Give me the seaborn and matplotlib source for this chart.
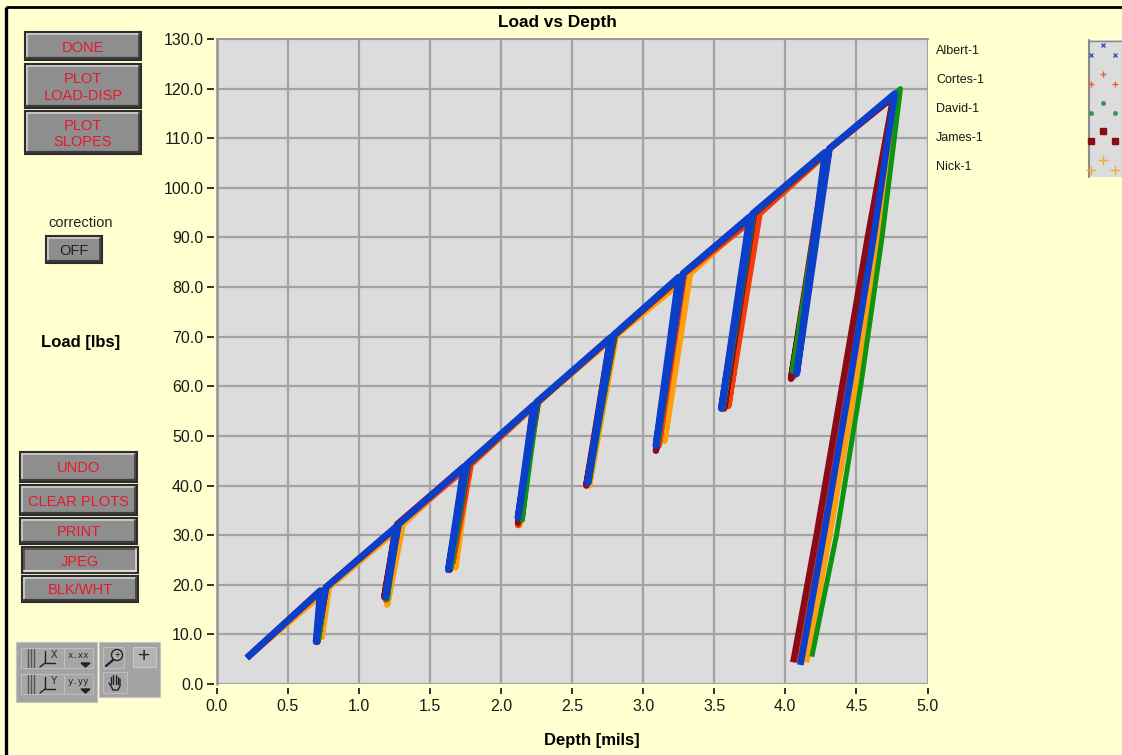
from __future__ import annotations

import matplotlib

matplotlib.use("Agg")
import matplotlib.pyplot as plt
import pandas as pd
import seaborn as sns
from matplotlib.patches import Circle, Rectangle

SERIES = ["Albert-1", "Cortes-1", "David-1", "James-1", "Nick-1"]
DRAW_ORDER = ["Nick-1", "Cortes-1", "James-1", "David-1", "Albert-1"]
COLORS = {
    "Albert-1": "#0b3fc9",
    "Cortes-1": "#f23c0c",
    "David-1": "#0b950f",
    "James-1": "#8b0a18",
    "Nick-1": "#ff9f0f",
}
WIDTHS = {"Albert-1": 4.8, "Cortes-1": 4.4, "David-1": 3.6, "James-1": 4.6, "Nick-1": 4.6}

START_DEPTH = 0.23
START_LOAD = 5.7

PEAK_LOAD = [18.8, 31.6, 43.8, 56.2, 69.8, 82.0, 94.2, 107.2]
REJOIN_LOAD = [19.5, 32.2, 44.3, 56.8, 70.3, 82.7, 94.8, 107.9]
LAST_PEAK_LOAD = {"Albert-1": 119.0, "Cortes-1": 118.5, "David-1": 120.0, "James-1": 118.3, "Nick-1": 119.0}
FINAL_LOADS = [90.0, 60.0, 30.0]

PEAK_DEPTH = {
    "Albert-1": [0.73, 1.26, 1.74, 2.23, 2.77, 3.25, 3.75, 4.28, 4.77],
    "Cortes-1": [0.74, 1.27, 1.77, 2.24, 2.78, 3.27, 3.8, 4.3, 4.76],
    "David-1": [0.73, 1.26, 1.74, 2.24, 2.77, 3.26, 3.76, 4.29, 4.81],
    "James-1": [0.73, 1.26, 1.74, 2.23, 2.77, 3.26, 3.76, 4.29, 4.76],
    "Nick-1": [0.77, 1.29, 1.75, 2.24, 2.79, 3.31, 3.77, 4.3, 4.78],
}
REJOIN_DEPTH = {
    "Albert-1": [0.77, 1.28, 1.76, 2.25, 2.79, 3.28, 3.77, 4.31],
    "Cortes-1": [0.77, 1.28, 1.79, 2.26, 2.8, 3.29, 3.82, 4.31],
    "David-1": [0.77, 1.28, 1.77, 2.26, 2.8, 3.28, 3.78, 4.31],
    "James-1": [0.77, 1.27, 1.77, 2.26, 2.8, 3.28, 3.78, 4.31],
    "Nick-1": [0.79, 1.31, 1.78, 2.26, 2.81, 3.33, 3.79, 4.31],
}
TROUGH_DEPTH = {
    "Albert-1": [0.7, 1.19, 1.63, 2.12, 2.61, 3.09, 3.55, 4.08, 4.11],
    "Cortes-1": [0.71, 1.19, 1.66, 2.12, 2.6, 3.11, 3.6, 4.06, 4.08],
    "David-1": [0.72, 1.2, 1.65, 2.15, 2.62, 3.1, 3.56, 4.05, 4.19],
    "James-1": [0.71, 1.18, 1.64, 2.12, 2.6, 3.09, 3.57, 4.04, 4.06],
    "Nick-1": [0.74, 1.2, 1.68, 2.13, 2.62, 3.15, 3.59, 4.06, 4.15],
}
TROUGH_LOAD = {
    "Albert-1": [8.5, 17.5, 23.0, 33.5, 40.5, 48.0, 55.5, 62.5, 4.5],
    "Cortes-1": [9.0, 17.0, 24.5, 32.0, 40.0, 48.0, 56.0, 62.0, 5.0],
    "David-1": [9.0, 17.0, 23.5, 33.0, 40.5, 48.0, 55.5, 63.0, 6.0],
    "James-1": [8.5, 17.5, 23.0, 32.5, 40.0, 47.0, 55.5, 61.5, 5.0],
    "Nick-1": [9.5, 16.0, 23.5, 32.0, 40.0, 49.0, 56.0, 62.0, 5.0],
}
FINAL_DEPTH = {
    "Albert-1": [4.62, 4.45, 4.27],
    "Cortes-1": [4.6, 4.42, 4.24],
    "David-1": [4.68, 4.53, 4.36],
    "James-1": [4.58, 4.4, 4.22],
    "Nick-1": [4.65, 4.49, 4.31],
}

X_TICKS = [0.0, 0.5, 1.0, 1.5, 2.0, 2.5, 3.0, 3.5, 4.0, 4.5, 5.0]
Y_TICKS = [0, 10, 20, 30, 40, 50, 60, 70, 80, 90, 100, 110, 120, 130]

BG = "#ffffcf"
BTN_RED = "#e8182c"


def build_frame() -> pd.DataFrame:
    rows = []
    for name in SERIES:
        depth = [START_DEPTH]
        load = [START_LOAD]
        for i in range(8):
            depth += [PEAK_DEPTH[name][i], TROUGH_DEPTH[name][i], REJOIN_DEPTH[name][i]]
            load += [PEAK_LOAD[i], TROUGH_LOAD[name][i], REJOIN_LOAD[i]]
        depth += [PEAK_DEPTH[name][8]] + FINAL_DEPTH[name] + [TROUGH_DEPTH[name][8]]
        load += [LAST_PEAK_LOAD[name]] + FINAL_LOADS + [TROUGH_LOAD[name][8]]
        rows.append(pd.DataFrame({"series": name, "depth": depth, "load": load}))
    return pd.concat(rows, ignore_index=True)


def draw_button(ui, x0, y0, x1, y1, label, size=10.5, color=BTN_RED, pressed=False):
    ui.add_patch(Rectangle((x0, y0), x1 - x0, y1 - y0, fc="#8e8e8e", ec="#2c2c2c", lw=1.5))
    top = "#d0d0d0" if not pressed else "#4a4a4a"
    bottom = "#3c3c3c" if not pressed else "#d8d8d8"
    ui.plot([x0 + 2, x1 - 2], [y0 + 2.2, y0 + 2.2], color=top, lw=1.2)
    ui.plot([x0 + 2, x0 + 2], [y0 + 2, y1 - 2], color=top, lw=1.2)
    ui.plot([x0 + 2, x1 - 2], [y1 - 2.5, y1 - 2.5], color=bottom, lw=1.6)
    ui.plot([x1 - 2, x1 - 2], [y0 + 2, y1 - 2], color=bottom, lw=1.2)
    ui.text((x0 + x1) / 2, (y0 + y1) / 2 + 1.5, label, color=color, ha="center", va="center",
            fontsize=size, linespacing=1.2)


def draw_tool_icon(ui, x0, y0, letter):
    # little graph palette icon
    ui.add_patch(Rectangle((x0, y0), 45, 20, fc="#a6a6a6", ec="#bdbdbd", lw=0.8))
    for dx in (7, 10, 13):
        ui.plot([x0 + dx, x0 + dx], [y0 + 1, y0 + 19], color="#555555", lw=1.0)
    ui.plot([x0 + 24, x0 + 24, x0 + 34], [y0 + 3, y0 + 15, y0 + 15], color="#222222", lw=1.0)
    ui.plot([x0 + 24, x0 + 19], [y0 + 15, y0 + 19], color="#222222", lw=1.0)
    ui.text(x0 + 33, y0 + 7, letter, fontsize=7, ha="center", va="center", color="#222222")


def draw_hand(ui, cx, cy):
    # no installed font has a hand, so the four fingers and palm are strokes
    for dx, top in zip((-4, -1.5, 1, 3.5), (-5, -7, -7, -5)):
        ui.plot([cx + dx, cx + dx], [cy + top, cy + 2], color="#222222", lw=1.0)
    ui.plot([cx - 6, cx - 4, cx - 2, cx + 3, cx + 5, cx + 5],
            [cy + 1, cy + 4, cy + 8, cy + 8, cy + 4, cy - 3], color="#222222", lw=1.0)


def draw_chrome(ui):
    ui.plot([6.5, 6.5], [7, 755], color="black", lw=2.4, solid_capstyle="butt")
    ui.plot([6, 1122], [7, 7], color="black", lw=2.0, solid_capstyle="butt")

    draw_button(ui, 25, 32, 141, 60, "DONE")
    draw_button(ui, 25, 64, 141, 108, "PLOT\nLOAD-DISP")
    draw_button(ui, 25, 111, 141, 154, "PLOT\nSLOPES")
    ui.text(81, 223, "correction", fontsize=10.5, ha="center", va="center", color="#222222")
    draw_button(ui, 46, 236, 102, 263, "OFF", color="#222222")

    ui.text(81, 342, "Load [lbs]", fontsize=12, fontweight="bold", ha="center", va="center", color="black")

    draw_button(ui, 20, 452, 137, 482, "UNDO")
    draw_button(ui, 20, 485, 137, 515, "CLEAR PLOTS")
    draw_button(ui, 20, 518, 137, 544, "PRINT")
    draw_button(ui, 22, 547, 138, 573, "JPEG", pressed=True)
    draw_button(ui, 22, 576, 138, 602, "BLK/WHT")

    # graph palette at the bottom left
    ui.add_patch(Rectangle((16, 642), 81, 60, fc="#a3a3a3", ec="#c4c4c4", lw=0.8))
    ui.add_patch(Rectangle((99, 642), 61, 55, fc="#a3a3a3", ec="#c4c4c4", lw=0.8))
    draw_tool_icon(ui, 21, 648, "X")
    draw_tool_icon(ui, 21, 674, "Y")
    ui.add_patch(Rectangle((64, 648), 29, 20, fc="#a6a6a6", ec="#bdbdbd", lw=0.8))
    ui.add_patch(Rectangle((64, 674), 29, 20, fc="#a6a6a6", ec="#bdbdbd", lw=0.8))
    ui.text(78, 656, "x.xx", fontsize=6.5, ha="center", va="center", family="DejaVu Sans Mono", color="#222222")
    ui.text(78, 682, "y.yy", fontsize=6.5, ha="center", va="center", family="DejaVu Sans Mono", color="#222222")
    for y in (665, 691):
        ui.fill([81, 90, 85.5], [y - 2, y - 2, y + 2], color="#222222")
    ui.add_patch(Rectangle((103, 647), 21, 21, fc="#a6a6a6", ec="#bdbdbd", lw=0.8))
    ui.add_patch(Circle((117, 655), 5.5, fc="#b0b0b0", ec="#222222", lw=1.0))
    ui.plot([113, 106], [660, 666], color="#222222", lw=1.6)
    ui.text(117, 655, "+", fontsize=7, ha="center", va="center", color="#222222")
    ui.add_patch(Rectangle((133, 647), 23, 20, fc="#b4b4b4", ec="#c8c8c8", lw=0.8))
    ui.text(144.5, 657, "+", fontsize=15, ha="center", va="center", color="#222222")
    ui.add_patch(Rectangle((103, 672), 24, 21, fc="#a6a6a6", ec="#bdbdbd", lw=0.8))
    draw_hand(ui, 115, 682)

    # series names and marker strip on the right
    for i, name in enumerate(SERIES):
        ui.text(936, 51 + 28.9 * i, name, fontsize=9, ha="left", va="center", color="#1a1a1a")
    ui.add_patch(Rectangle((1089, 40), 33, 137, fc="#dcdcdc", ec="none"))
    ui.plot([1089, 1089], [40, 177], color="#8a8a8a", lw=1.5)
    ui.plot([1089, 1122], [40.5, 40.5], color="#8a8a8a", lw=1.0)
    marker_styles = [("x", 3.5, "#3a5cc0"), ("+", 4.5, "#e8603a"), ("o", 2.5, "#3f8f4f"),
                     ("s", 4.5, "#8b0a18"), ("+", 7.5, "#f2a93a")]
    for i, (marker, size, color) in enumerate(marker_styles):
        y = 45 + 28.8 * i
        ui.plot([1103, 1091, 1115], [y, y + 10, y + 10], ls="none", marker=marker, ms=size,
                mfc=color, mec=color, mew=1.0)


def main() -> None:
    sns.set_theme(style="darkgrid")
    plt.rcParams["font.family"] = ["Liberation Sans", "DejaVu Sans"]

    width, height = 1122, 755
    fig = plt.figure(figsize=(width / 100, height / 100), dpi=100, facecolor=BG)

    ui = fig.add_axes([0, 0, 1, 1], zorder=2)
    ui.set_xlim(0, width)
    ui.set_ylim(height, 0)
    ui.axis("off")
    ui.patch.set_alpha(0)

    ax = fig.add_axes([216.5 / width, 1 - 684 / height, 711 / width, 645 / height], zorder=1)
    ax.set_facecolor("#dcdcdc")

    sns.lineplot(
        data=build_frame(), x="depth", y="load", hue="series", hue_order=DRAW_ORDER,
        palette=COLORS, size="series", size_order=DRAW_ORDER, sizes=WIDTHS,
        sort=False, estimator=None, errorbar=None, legend=False,
        ax=ax, solid_joinstyle="round", solid_capstyle="projecting", zorder=3,
    )

    ax.set_xlim(0, 5)
    ax.set_ylim(0, 130)
    ax.set_xticks(X_TICKS, [f"{v:.1f}" for v in X_TICKS])
    ax.set_yticks(Y_TICKS, [f"{v:.1f}" for v in Y_TICKS])
    ax.grid(True, color="#a2a2a2", linewidth=1.6)
    # ticks sit a little away from the plot area, so the spines they hang on are moved out
    ax.spines["bottom"].set_position(("outward", 3))
    ax.spines["left"].set_position(("outward", 1.5))
    ax.axvline(0, color="#9a9a9a", linewidth=2.0, clip_on=False, zorder=2)
    ax.tick_params(axis="x", length=4.5, width=1.3, color="#222222", labelsize=11.5,
                   labelcolor="#1a1a1a", pad=3, bottom=True)
    ax.tick_params(axis="y", length=5, width=1.3, color="#222222", labelsize=11.5,
                   labelcolor="#1a1a1a", pad=3, left=True)
    ax.set_xlabel("")
    ax.set_ylabel("")
    for side in ("bottom", "left", "right"):
        ax.spines[side].set_visible(False)
    ax.spines["top"].set_color("#9a9a9a")
    ax.spines["top"].set_linewidth(1.4)

    ui.text(557, 22, "Load vs Depth", fontsize=12.4, fontweight="bold", ha="center", va="center", color="black")
    ui.text(592, 740, "Depth [mils]", fontsize=12, fontweight="bold", ha="center", va="center", color="black")
    draw_chrome(ui)
    ui.set_xlim(0, width)
    ui.set_ylim(height, 0)

    fig.savefig("out.png", dpi=100, facecolor=BG)
    plt.close(fig)


if __name__ == "__main__":
    main()
